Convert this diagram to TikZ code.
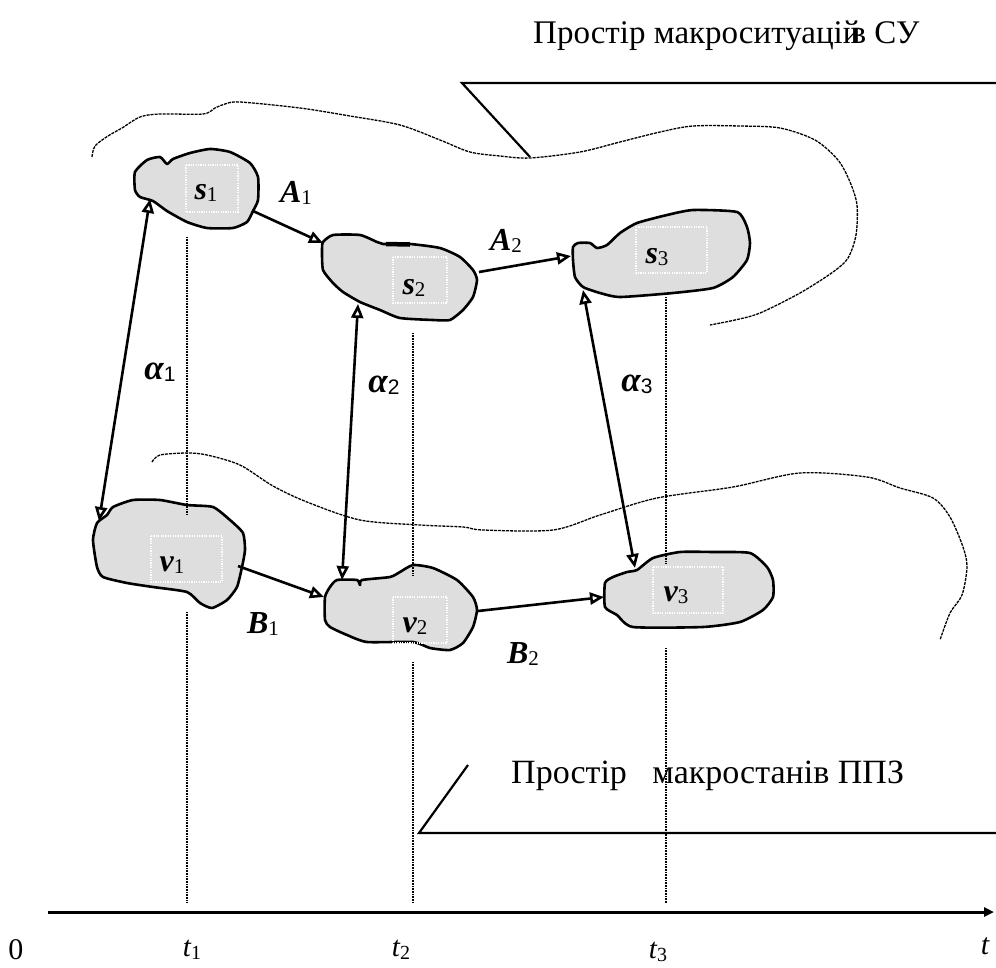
\documentclass[tikz,border=0pt]{standalone}
\usepackage{fontspec}
\setmainfont{Liberation Serif}
\newfontfamily\subsans{Liberation Sans}
\usetikzlibrary{arrows.meta}

\definecolor{blobgray}{HTML}{DEDEDE}

% bold italic symbol with an upright index
\newcommand\symidx[2]{{\fontsize{32}{32}\selectfont\bfseries\itshape #1}{\fontsize{21}{21}\selectfont\raisebox{-2pt}{#2}}}
% bold italic alpha with a sans index
\newcommand\alidx[1]{{\fontsize{35}{35}\selectfont\bfseries\itshape α}{\fontsize{21}{21}\selectfont\subsans\raisebox{-2pt}{#1}}}
% time mark
\newcommand\tidx[1]{{\fontsize{29}{29}\selectfont\itshape t}{\fontsize{20}{20}\selectfont\raisebox{-3pt}{#1}}}

\tikzset{
  blob/.style={draw=black, line width=2.6pt, fill=blobgray, line join=round},
  tagbox/.style={draw=white, line width=1.4pt, dash pattern=on 1.2pt off 1.2pt},
  link/.style={line width=2.6pt, -{Triangle[open,length=14pt,width=12pt]}},
  duallink/.style={line width=2.6pt, {Triangle[open,length=14pt,width=12pt]}-{Triangle[open,length=14pt,width=12pt]}},
  boundary/.style={line width=1.3pt, dash pattern=on 3pt off 1pt, line join=round},
  timeline/.style={line width=1.3pt, dash pattern=on 1pt off 0.6pt},
  framing/.style={line width=2.2pt},
  lbl/.style={inner sep=0pt},
  caption/.style={inner sep=0pt, anchor=base west},
}

\begin{document}
\begin{tikzpicture}[x=1pt, y=-1pt]
\path[use as bounding box] (0,0) rectangle (996,967);

% region boundaries
\draw[boundary] plot[smooth, tension=0.5] coordinates {
  (92,157) (95,146) (108,136) (122,128) (140,117) (160,114) (203,114) (215,108)
  (225,104) (240,102) (300,108) (350,116) (400,125) (440,140) (470,152) (500,156)
  (530,158) (580,152) (620,142) (660,132) (693,126) (740,126) (780,128) (815,140)
  (838,160) (850,182) (857,205) (856,235) (848,258) (833,272) (800,293) (760,313)
  (735,320) (710,325)};
\draw[boundary] plot[smooth, tension=0.5] coordinates {
  (152,462) (160,455) (187,453) (207,455) (240,465) (273,486) (307,502) (360,520)
  (420,525) (463,527) (483,530) (553,530) (600,515) (657,498) (733,487) (800,473)
  (867,477) (900,488) (933,498) (950,517) (963,547) (967,567) (962,595) (950,613)
  (940,640)};

% situation blobs
\draw[blob] plot[smooth cycle, tension=0.35] coordinates {
  (135,172) (147,160) (160,157) (167,164) (173,159) (190,153) (210,149) (230,152)
  (250,163) (258,177) (258,200) (253,211) (247,222) (233,228) (207,228) (187,222)
  (167,211) (153,201) (140,197) (135,190)};
\draw[blob] plot[smooth cycle, tension=0.35] coordinates {
  (322,250) (323,242) (333,235) (360,235) (377,242) (383,244) (410,244) (440,248)
  (460,257) (473,270) (477,280) (473,297) (463,310) (450,320) (433,320) (400,318)
  (380,310) (360,302) (343,292) (333,283) (323,270)};
\draw[line width=4.5pt] (386,244) -- (410,244.5);
\draw[blob] plot[smooth cycle, tension=0.35] coordinates {
  (573,247) (578,243) (590,243) (597,248) (607,245) (620,233) (637,223) (667,215)
  (693,210) (737,212) (747,227) (750,243) (747,260) (733,277) (713,288) (673,293)
  (620,297) (600,293) (583,287) (575,277) (573,260)};

% state blobs
\draw[blob] plot[smooth cycle, tension=0.35] coordinates {
  (97,523) (107,515) (113,507) (133,500) (160,500) (187,505) (213,507) (230,520)
  (243,533) (245,550) (242,567) (237,587) (227,600) (212,608) (200,603) (187,592)
  (153,587) (127,583) (103,577) (97,567) (93,540)};
\draw[blob] plot[smooth cycle, tension=0.35] coordinates {
  (325,597) (330,587) (337,580) (357,580) (360,585) (362,580) (390,577) (400,572)
  (413,565) (433,568) (457,580) (473,597) (477,610) (473,627) (463,643) (450,650)
  (430,648) (413,642) (367,642) (347,635) (330,627) (325,620)};
\draw[blob] plot[smooth cycle, tension=0.35] coordinates {
  (605,583) (613,577) (627,572) (637,570) (653,558) (680,552) (713,552) (750,553)
  (767,567) (773,580) (773,597) (763,610) (740,622) (703,627) (633,627) (617,615)
  (605,607)};

% label frames inside the blobs
\draw[tagbox] (186,165) rectangle (238,212);
\draw[tagbox] (393,257) rectangle (447,303);
\draw[tagbox] (636,227) rectangle (707,273);
\draw[tagbox] (151,536) rectangle (222,582);
\draw[tagbox] (393,597) rectangle (447,643);
\draw[tagbox] (653,567) rectangle (723,613);

% blob labels
\node[lbl] (s1) at (206,193) {\symidx{s}{1}};
\node[lbl] (s2) at (414,288) {\symidx{s}{2}};
\node[lbl] (s3) at (657,257) {\symidx{s}{3}};
\node[lbl] (v1) at (172,565) {\symidx{v}{1}};
\node[lbl] (v2) at (415,626) {\symidx{v}{2}};
\node[lbl] (v3) at (676,595) {\symidx{v}{3}};

% connector ends on the blob outlines
\coordinate (s1r) at (253,211);
\coordinate (s1b) at (150,199);
\coordinate (s2l) at (323,243);
\coordinate (s2r) at (479,272);
\coordinate (s2b) at (358,304);
\coordinate (s3l) at (571,256);
\coordinate (s3b) at (583,290);
\coordinate (v1r) at (238,566);
\coordinate (v1t) at (99,521);
\coordinate (v2l) at (324,597);
\coordinate (v2r) at (478,611);
\coordinate (v2t) at (342,580);
\coordinate (v3l) at (604,597);
\coordinate (v3t) at (635,568);

% transitions
\draw[link] (s1r) -- (s2l);
\draw[link] (s2r) -- (s3l);
\draw[link] (v1r) -- (v2l);
\draw[link] (v2r) -- (v3l);
\draw[duallink] (s1b) -- (v1t);
\draw[duallink] (s2b) -- (v2t);
\draw[duallink] (s3b) -- (v3t);

\node[lbl] (A1) at (296,193) {\symidx{A}{1}};
\node[lbl] (A2) at (506,241) {\symidx{A}{2}};
\node[lbl] (B1) at (263,624) {\symidx{B}{1}};
\node[lbl] (B2) at (523,654) {\symidx{B}{2}};
\node[lbl] (al1) at (160,372) {\alidx{1}};
\node[lbl] (al2) at (384,385) {\alidx{2}};
\node[lbl] (al3) at (637,384) {\alidx{3}};

% space captions
\node[caption, font=\fontsize{33}{33}\selectfont] (topcap) at (533,43) {Простір макроситуацій\kern-0.3emв СУ};
\draw[framing] (996,83) -- (462,83) -- (530,157);
\node[caption, font=\fontsize{34}{34}\selectfont] (botcap) at (511,783) {Простір\hspace{0.75em}макростанів ППЗ};
\draw[framing] (996,833) -- (419,833) -- (468,765);

% time axis
\coordinate (ax0) at (48,912);
\coordinate (ax1) at (994,912);
\draw[line width=3pt, -{Triangle[length=10pt,width=9pt]}] (ax0) -- (ax1);

% time marks
\draw[timeline] (187,237) -- (187,515);
\draw[timeline] (187,612) -- (187,903);
\draw[timeline] (413,333) -- (413,575);
\draw[timeline] (413,662) -- (413,903);
\draw[timeline] (666,297) -- (666,563);
\draw[timeline] (666,648) -- (666,903);

\node[lbl, font=\fontsize{30}{30}\selectfont] (zero) at (16,950) {0};
\node[lbl] (t1) at (192,950) {\tidx{1}};
\node[lbl] (t2) at (401,950) {\tidx{2}};
\node[lbl] (t3) at (658,952) {\tidx{3}};
\node[lbl, font=\fontsize{30}{30}\selectfont\itshape] (tt) at (985,946) {t};
\end{tikzpicture}
\end{document}
